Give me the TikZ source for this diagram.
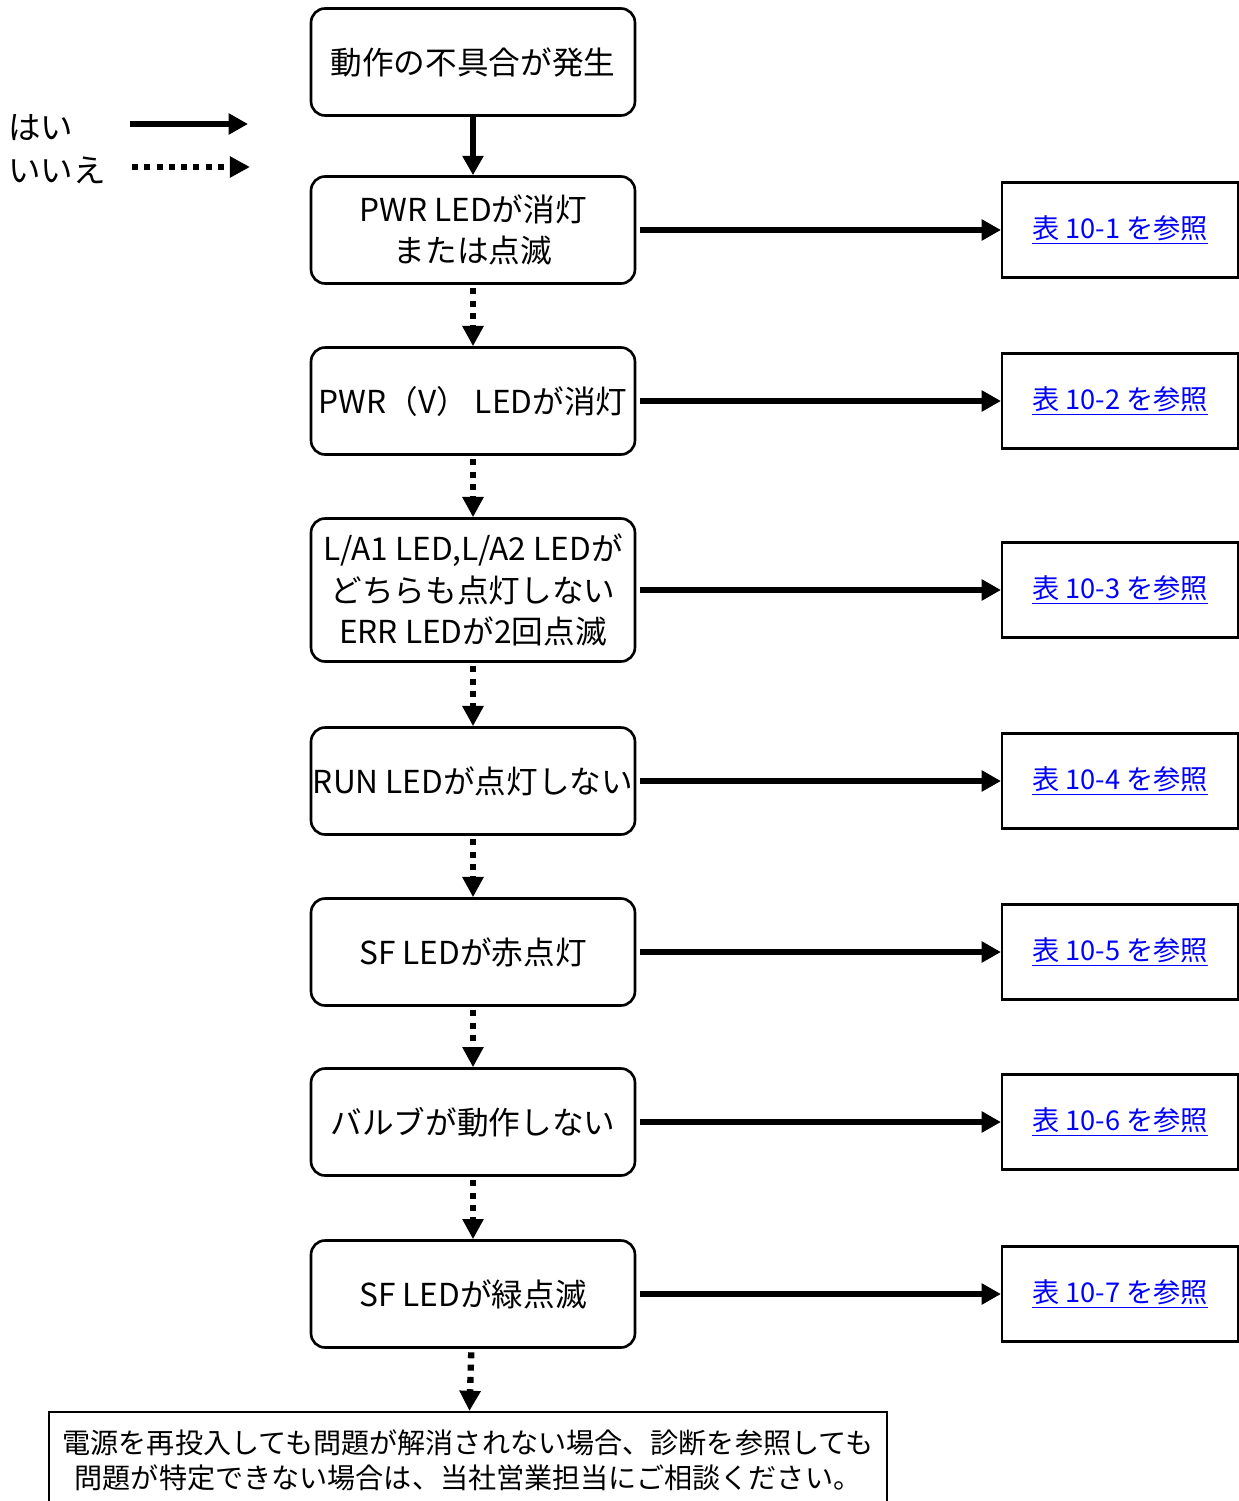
\documentclass[tikz,border=0pt]{standalone}
\usepackage{fontspec}
\setmainfont{Noto Sans CJK JP}
\usetikzlibrary{arrows.meta}
\newcommand{\tableref}[1]{\underline{表 #1 を参照}}
\tikzset{
	check node/.style={rectangle, rounded corners=8pt, draw, line width=1.5pt, minimum width=6.48cm, minimum height=2.14cm, align=center, font=\fontsize{18}{23.5}\selectfont, inner sep=1pt},
	ref node/.style={rectangle, draw, line width=1.2pt, minimum width=4.72cm, minimum height=1.9cm, text=blue, font=\fontsize{15.5}{19}\selectfont},
	note node/.style={rectangle, draw, line width=1.2pt, minimum width=16.78cm, minimum height=1.92cm, align=center, font=\fontsize{16}{19.8}\selectfont},
	legend text/.style={anchor=west, font=\fontsize{18.5}{22}\selectfont, inner sep=0pt},
	yes arrow/.style={line width=3.6pt, -{Triangle[length=11pt, width=11.5pt]}},
	no arrow/.style={line width=3.6pt, dash pattern=on 3.4pt off 3.6pt, -{Triangle[length=11.5pt, width=11.5pt]}},
}

\begin{document}
\begin{tikzpicture}[x=0.02cm, y=-0.02cm]
	\useasboundingbox (0,0) rectangle (1239,1501);

	% legend
	\node[legend text] (yes) at (8,128) {はい};
	\node[legend text] (no) at (8,170) {いいえ};
	\coordinate (yes start) at (130,124);
	\coordinate (yes end) at (248,124);
	\coordinate (no start) at (132,167);
	\coordinate (no end) at (250,167);
	\draw[yes arrow] (yes start) -- (yes end);
	\draw[no arrow] (no start) -- (no end);

	% checks
	\node[check node] (start) at (473,62) {動作の不具合が発生};
	\node[check node] (pwr) at (473,230) {PWR LEDが消灯\\または点滅};
	\node[check node] (pwrv) at (473,401) {PWR（V） LEDが消灯};
	\node[check node, minimum height=2.86cm] (la) at (473,590) {L/A1 LED,L/A2 LEDが\\どちらも点灯しない\\ERR LEDが2回点滅};
	\node[check node] (run) at (473,781) {RUN LEDが点灯しない};
	\node[check node] (sfred) at (473,952) {SF LEDが赤点灯};
	\node[check node] (valve) at (473,1122) {バルブが動作しない};
	\node[check node] (sfgreen) at (473,1294) {SF LEDが緑点滅};
	\node[note node] (contact) at (468,1460) {電源を再投入しても問題が解消されない場合、診断を参照しても\\問題が特定できない場合は、当社営業担当にご相談ください。};

	% references
	\node[ref node] (ref1) at (1120,230) {\tableref{10-1}};
	\node[ref node] (ref2) at (1120,401) {\tableref{10-2}};
	\node[ref node] (ref3) at (1120,590) {\tableref{10-3}};
	\node[ref node] (ref4) at (1120,781) {\tableref{10-4}};
	\node[ref node] (ref5) at (1120,952) {\tableref{10-5}};
	\node[ref node] (ref6) at (1120,1122) {\tableref{10-6}};
	\node[ref node] (ref7) at (1120,1294) {\tableref{10-7}};

	% yes
	\draw[yes arrow] (start) -- (pwr);
	\draw[yes arrow, shorten <=2pt] (pwr.east) -- (ref1.west);
	\draw[yes arrow, shorten <=2pt] (pwrv.east) -- (ref2.west);
	\draw[yes arrow, shorten <=2pt] (la.east) -- (ref3.west);
	\draw[yes arrow, shorten <=2pt] (run.east) -- (ref4.west);
	\draw[yes arrow, shorten <=2pt] (sfred.east) -- (ref5.west);
	\draw[yes arrow, shorten <=2pt] (valve.east) -- (ref6.west);
	\draw[yes arrow, shorten <=2pt] (sfgreen.east) -- (ref7.west);

	% no
	\draw[no arrow, shorten <=2pt] (pwr) -- (pwrv);
	\draw[no arrow, shorten <=2pt] (pwrv) -- (la);
	\draw[no arrow, shorten <=2pt] (la) -- (run);
	\draw[no arrow, shorten <=2pt] (run) -- (sfred);
	\draw[no arrow, shorten <=2pt] (sfred) -- (valve);
	\draw[no arrow, shorten <=2pt] (valve) -- (sfgreen);
	\draw[no arrow, shorten <=2pt] (sfgreen) -- (contact);
\end{tikzpicture}
\end{document}
